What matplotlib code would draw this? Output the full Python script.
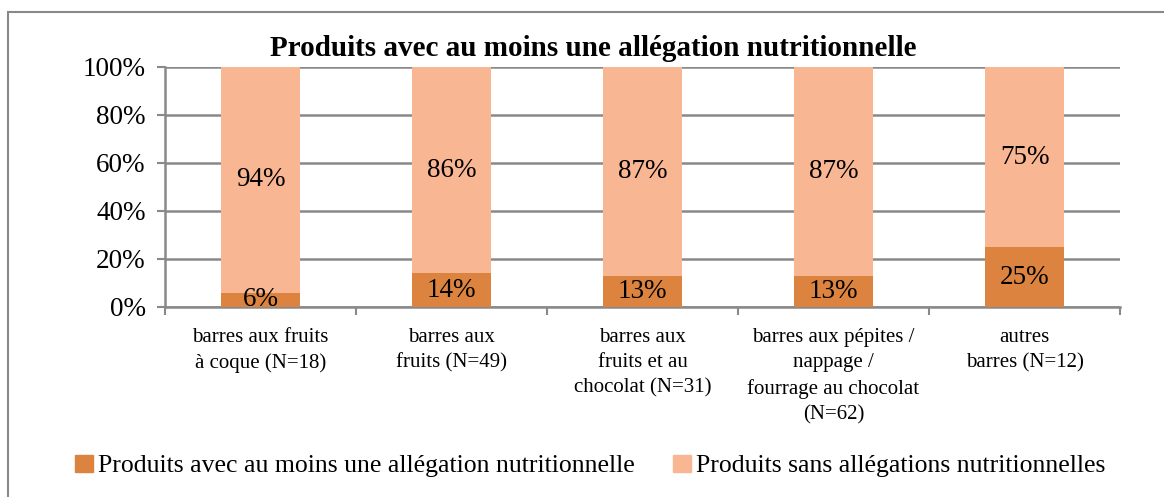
import matplotlib.pyplot as plt
from matplotlib.patches import Rectangle, Patch
import numpy as np

categories = [
    "barres aux fruits\nà coque (N=18)",
    "barres aux\nfruits (N=49)",
    "barres aux\nfruits et au\nchocolat (N=31)",
    "barres aux pépites /\nnappage /\nfourrage au chocolat\n(N=62)",
    "autres\nbarres (N=12)",
]
avec = [6, 14, 13, 13, 25]
sans = [94, 86, 87, 87, 75]
series_names = [
    "Produits avec au moins une allégation nutritionnelle",
    "Produits sans allégations nutritionnelles",
]
title = "Produits avec au moins une allégation nutritionnelle"

dark = "#DC843F"
light = "#F8B692"
grid_col = "#898989"

plt.rcParams["font.family"] = ["Liberation Serif", "DejaVu Serif"]

W, H = 1164, 497
fig = plt.figure(figsize=(W / 100, H / 100), dpi=100)

# outer chart frame
fig.patches.append(Rectangle((8 / W, -0.1), 1.2, 1 - 12 / H + 0.1,
                             transform=fig.transFigure, fill=False,
                             edgecolor=grid_col, linewidth=1.5))

ax = fig.add_axes([165 / W, 1 - 307 / H, (1120 - 165) / W, (307 - 67) / H])

x = np.arange(len(categories))
ax.bar(x, avec, width=0.41, color=dark, zorder=3)
ax.bar(x, sans, width=0.41, bottom=avec, color=light, zorder=3)

for i in range(len(categories)):
    ax.text(x[i], avec[i] / 2, f"{avec[i]}%", ha="center", va="center",
            fontsize=19.5, zorder=4)
    ax.text(x[i], avec[i] + sans[i] / 2, f"{sans[i]}%", ha="center",
            va="center", fontsize=19.5, zorder=4)

ax.set_xlim(-0.5, len(categories) - 0.5)
ax.set_ylim(0, 100)
ax.set_yticks(range(0, 101, 20))
ax.set_yticklabels([f"{v}%" for v in range(0, 101, 20)], fontsize=19.5)
ax.yaxis.grid(True, color=grid_col, linewidth=1.8, zorder=0)

ax.set_xticks(x)
ax.set_xticklabels(categories, fontsize=15, linespacing=1.45, va="top")
ax.tick_params(axis="x", length=0, pad=15)
ax.set_xticks(np.arange(-0.5, len(categories)), minor=True)
ax.tick_params(axis="x", which="minor", length=6, width=1.5, color=grid_col)
ax.tick_params(axis="y", length=6, width=1.5, color=grid_col, pad=8)

for s in ["top", "right"]:
    ax.spines[s].set_visible(False)
ax.spines["left"].set_color(grid_col)
ax.spines["bottom"].set_color(grid_col)
ax.spines["left"].set_linewidth(1.8)
ax.spines["bottom"].set_linewidth(1.8)

fig.text(593 / W, 1 - 48 / H, title, ha="center", va="center",
         fontsize=21, fontweight="bold")

handles = [Patch(color=dark), Patch(color=light)]
fig.legend(handles, series_names, loc="center", ncol=2,
           bbox_to_anchor=(590 / W, 1 - 466 / H), frameon=False,
           fontsize=18.5, handlelength=0.7, handleheight=0.7,
           handletextpad=0.2, columnspacing=1.5)

fig.savefig("out.png", dpi=100)
